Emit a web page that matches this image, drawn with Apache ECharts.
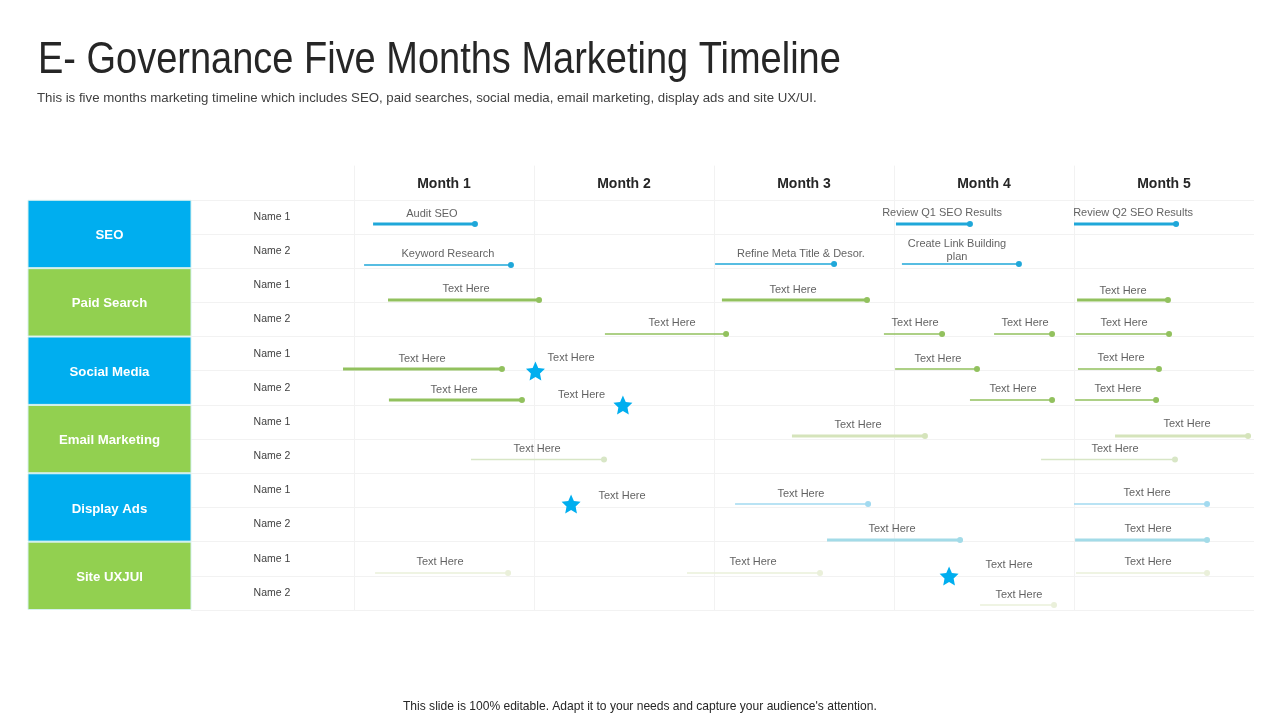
<!DOCTYPE html>
<html>
<head>
<meta charset="utf-8">
<title>E- Governance Five Months Marketing Timeline</title>
<script src="https://cdn.jsdelivr.net/npm/echarts@6/dist/echarts.min.js"></script>
<style>
    html, body { margin: 0; padding: 0; background: #fff; }
    #main { width: 1280px; height: 720px; }
</style>
</head>
<body>
<div id="main"></div>
<script>
//表头和分组
var months = ['Month 1', 'Month 2', 'Month 3', 'Month 4', 'Month 5'];
var groups = ['SEO', 'Paid Search', 'Social Media', 'Email Marketing', 'Display Ads', 'Site UXJUI'];
var names = ['', 'Name 1', 'Name 2', 'Name 1', 'Name 2', 'Name 1', 'Name 2', 'Name 1', 'Name 2', 'Name 1', 'Name 2', 'Name 1', 'Name 2'];

//任务：x轴单位是月，y轴单位是行
var taskLabels = ['Audit SEO', 'Keyword Research', 'Review Q1 SEO Results', 'Review Q2 SEO Results', 'Refine Meta Title & Desor.', 'Create Link Building\nplan',
    'Text Here', 'Text Here', 'Text Here', 'Text Here', 'Text Here', 'Text Here', 'Text Here',
    'Text Here', 'Text Here', 'Text Here', 'Text Here', 'Text Here', 'Text Here',
    'Text Here', 'Text Here', 'Text Here', 'Text Here',
    'Text Here', 'Text Here', 'Text Here', 'Text Here',
    'Text Here', 'Text Here', 'Text Here', 'Text Here'];
var taskStart = [0.106, 0.056, 3.011, 4.000, 2.006, 3.044,
    0.189, 2.044, 4.017, 1.394, 2.944, 3.556, 4.011,
    -0.061, 3.006, 4.022, 0.194, 3.422, 4.006,
    2.433, 4.228, 0.650, 3.817,
    2.117, 4.000, 2.628, 4.006,
    0.117, 1.850, 4.011, 3.478];
var taskEnd = [0.672, 0.872, 3.422, 4.567, 2.667, 3.694,
    1.028, 2.850, 4.522, 2.067, 3.267, 3.878, 4.528,
    0.822, 3.461, 4.472, 0.933, 3.878, 4.456,
    3.172, 4.967, 1.389, 4.561,
    2.856, 4.739, 3.367, 4.739,
    0.856, 2.589, 4.739, 3.889];
var taskRow = [0.708, 1.908, 0.708, 0.708, 1.878, 1.878,
    2.932, 2.932, 2.932, 3.926, 3.926, 3.926, 3.926,
    4.950, 4.950, 4.950, 5.857, 5.857, 5.857,
    6.911, 6.911, 7.598, 7.598,
    8.900, 8.900, 9.953, 9.953,
    10.918, 10.918, 10.918, 11.855];
var labelX = [0.433, 0.522, 3.267, 4.328, 2.483, 3.350,
    0.622, 2.439, 4.272, 1.767, 3.117, 3.728, 4.278,
    0.378, 3.244, 4.261, 0.556, 3.661, 4.244,
    2.800, 4.628, 1.017, 4.228,
    2.483, 4.406, 2.989, 4.411,
    0.478, 2.217, 4.411, 3.694];
var labelRow = [0.386, 1.556, 0.357, 0.357, 1.556, 1.439,
    2.580, 2.610, 2.639, 3.575, 3.575, 3.575, 3.575,
    4.629, 4.629, 4.599, 5.535, 5.506, 5.506,
    6.560, 6.530, 7.262, 7.262,
    8.578, 8.549, 9.602, 9.602,
    10.568, 10.568, 10.568, 11.533];

//星标
var starX = [1.008, 1.494, 1.206, 3.306];
var starRow = [5.009, 6.003, 8.900, 11.006];
var starLabelX = [1.206, 1.264, 1.489, 3.639];
var starLabelRow = [4.599, 5.682, 8.637, 10.655];

//样式
var fontName = '"Liberation Sans", Arial, sans-serif';
var groupColors = ['#00aeef', '#92d050'];
var rowColors = ['#1fa7d9', '#1fa7d9', '#92c15e', '#92c15e', '#92c15e', '#92c15e', '#d5e4bb', '#d8e6c6', '#a2daf0', '#a3dbe8', '#eaf0da', '#eaf0da'];
var rowWidths = [3, 1.5, 3, 1.5, 3, 3, 3, 1.5, 1.5, 3, 1.5, 1.5];
var thinTasks = [14, 15, 17, 18];
var gridLine = { show: true, showMinLine: false, lineStyle: { color: '#f2f2f2', width: 1 } };
var starPath = 'path://M50 2 L64.1 32.6 L97.6 36.5 L72.8 59.4 L79.4 92.5 L50 76 L20.6 92.5 L27.2 59.4 L2.4 36.5 L35.9 32.6 Z';

var chart = echarts.init(document.getElementById('main'));

function renderTask(params, api) {
    var i = params.dataIndex;
    var a = api.coord([api.value(0), api.value(2)]);
    var b = api.coord([api.value(1), api.value(2)]);
    var r = Math.floor(api.value(2));
    var color = rowColors[r];
    var width = thinTasks.indexOf(i) >= 0 ? 1.5 : rowWidths[r];
    return {
        type: 'group',
        children: [
            { type: 'line', shape: { x1: a[0], y1: a[1], x2: b[0], y2: b[1] }, style: { stroke: color, lineWidth: width } },
            { type: 'circle', shape: { cx: b[0], cy: b[1], r: 3 }, style: { fill: color } }
        ]
    };
}

var option = {
    animation: false,
    backgroundColor: '#fff',
    textStyle: { fontFamily: fontName },
    title: [
        { text: 'This is five months marketing timeline which includes SEO, paid searches, social media, email marketing, display ads and site UX/UI.', left: 37, top: 92, padding: 0, textStyle: { fontFamily: fontName, fontSize: 13.24, fontWeight: 'normal', color: '#404040' } },
        { text: "This slide is 100% editable. Adapt it to your needs and capture your audience's attention.", left: 403, top: 701, padding: 0, textStyle: { fontFamily: fontName, fontSize: 12.05, fontWeight: 'normal', color: '#262626' } }
    ],
    //标题字形偏窄，没有窄体字体，这里横向压缩
    graphic: [{
        type: 'text', x: 38, y: 38, scaleX: 0.844, silent: true,
        style: { text: 'E- Governance Five Months Marketing Timeline', font: 'normal 45px ' + fontName, fill: '#262626' }
    }],
    grid: [
        { left: 27.5, top: 199.8, width: 164, height: 410.2 },
        { left: 191, top: 165.6, width: 163, height: 444.4 },
        { left: 354, top: 165.6, width: 900, height: 444.4 }
    ],
    xAxis: [
        { gridIndex: 0, type: 'value', min: 0, max: 1, show: false },
        { gridIndex: 1, type: 'value', min: 0, max: 1, show: false },
        {
            gridIndex: 2, type: 'category', position: 'top', data: months,
            axisLine: { show: false }, axisTick: { show: false },
            axisLabel: { inside: true, margin: 12, interval: 0, fontFamily: fontName, fontSize: 14, fontWeight: 'bold', color: '#262626' },
            splitLine: { show: true, interval: 0, showMaxLine: false, lineStyle: { color: '#f2f2f2', width: 1 } }
        },
        { gridIndex: 2, type: 'value', min: 0, max: 5, interval: 1, show: false }
    ],
    yAxis: [
        { gridIndex: 0, type: 'category', inverse: true, data: groups, show: false },
        { gridIndex: 1, type: 'value', inverse: true, min: -1, max: 12, interval: 1, axisLine: { show: false }, axisTick: { show: false }, axisLabel: { show: false }, splitLine: gridLine },
        { gridIndex: 2, type: 'value', inverse: true, min: -1, max: 12, interval: 1, axisLine: { show: false }, axisTick: { show: false }, axisLabel: { show: false }, splitLine: gridLine },
        {
            gridIndex: 2, type: 'category', inverse: true, position: 'left', data: names,
            axisLine: { show: false }, axisTick: { show: false },
            axisLabel: { interval: 0, align: 'center', margin: 82, fontFamily: fontName, fontSize: 10.5, color: '#404040' }
        }
    ],
    series: [
        {
            type: 'bar', xAxisIndex: 0, yAxisIndex: 0, barWidth: '100%', silent: true,
            data: groups.map(function (g, i) {
                return { value: 1, itemStyle: { color: groupColors[i % 2], borderColor: '#d6f1ee', borderWidth: 1 } };
            }),
            label: {
                show: true, position: 'inside', offset: [0, 1.5],
                formatter: function (p) { return groups[p.dataIndex]; },
                fontFamily: fontName, fontSize: 13.2, fontWeight: 'bold', color: '#fff'
            }
        },
        {
            type: 'custom', xAxisIndex: 3, yAxisIndex: 2, silent: true, renderItem: renderTask,
            data: taskStart.map(function (s, i) { return [s, taskEnd[i], taskRow[i]]; })
        },
        {
            type: 'scatter', xAxisIndex: 3, yAxisIndex: 2, silent: true, symbolSize: 1,
            itemStyle: { color: 'rgba(0,0,0,0)' },
            data: taskLabels.map(function (t, i) { return { value: [labelX[i], labelRow[i]], name: t }; })
                .concat(starLabelX.map(function (x, i) { return { value: [x, starLabelRow[i]], name: 'Text Here' }; })),
            label: { show: true, position: 'inside', offset: [0, 1], formatter: '{b}', fontFamily: fontName, fontSize: 11, lineHeight: 13, color: '#3a3a3a' }
        },
        {
            type: 'scatter', xAxisIndex: 3, yAxisIndex: 2, silent: true, symbol: starPath, symbolSize: 19,
            itemStyle: { color: '#00aeef', opacity: 1 },
            data: starX.map(function (x, i) { return [x, starRow[i]]; })
        }
    ]
};
chart.setOption(option);
</script>
</body>
</html>
